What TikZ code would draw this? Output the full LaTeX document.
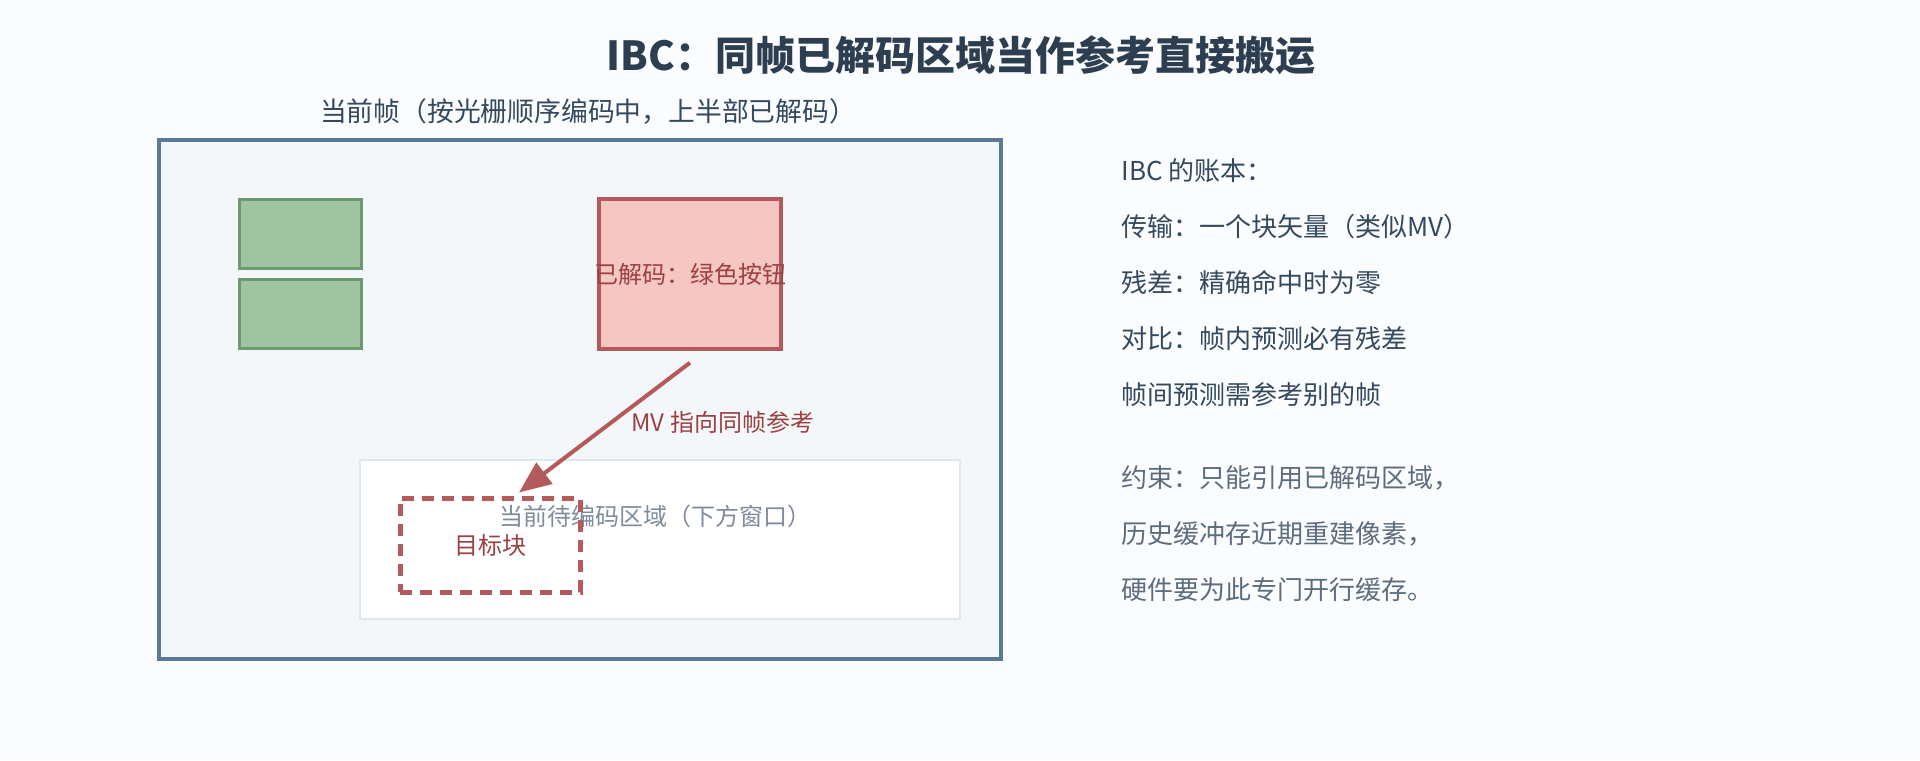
\documentclass[tikz,border=0pt]{standalone}
\usepackage{fontspec}
\setmainfont{Noto Sans CJK SC}
\usetikzlibrary{arrows.meta,calc}
\definecolor{bgc}{HTML}{FAFCFE}
\definecolor{ink}{HTML}{2C3E50}
\definecolor{inksoft}{HTML}{34495E}
\definecolor{inkgray}{HTML}{5D6D7E}
\definecolor{framec}{HTML}{5B7896}
\definecolor{framefill}{HTML}{F4F7FA}
\definecolor{grnfill}{HTML}{A0C3A2}
\definecolor{grnline}{HTML}{6A9A6E}
\definecolor{redfill}{HTML}{F5C6C2}
\definecolor{redline}{HTML}{B55A5A}
\definecolor{redtext}{HTML}{9A4242}
\definecolor{winline}{HTML}{DFE6EC}
\definecolor{wintext}{HTML}{7F8C9D}
\newcommand{\bodyfont}{\fontsize{12pt}{15pt}\selectfont}
\newcommand{\notefont}{\fontsize{13pt}{15pt}\selectfont}
\begin{document}
\begin{tikzpicture}[x=.5pt,y=-.5pt,>={Triangle[length=16pt,width=13pt]},
    box/.style={draw,inner sep=0pt},
    grnblk/.style={box,draw=grnline,fill=grnfill,line width=1.5pt,minimum width=61pt,minimum height=34.5pt},
    txt/.style={inner sep=0pt,font=\bodyfont},
    note/.style={inner sep=0pt,font=\notefont,anchor=west,text=inksoft}]
  \useasboundingbox [fill=bgc] (0,0) rectangle (1920,760);
  \node[inner sep=0pt,text=ink,font=\fontsize{20pt}{24pt}\selectfont\bfseries] (title) at (961,55) {IBC：同帧已解码区域当作参考直接搬运};
  \node[inner sep=0pt,text=inksoft,font=\fontsize{13.4pt}{16pt}\selectfont] (framecap) at (588,111) {当前帧（按光栅顺序编码中，上半部已解码）};
  % frame and the window still to code
  \node[box,draw=framec,fill=framefill,line width=1.8pt,minimum width=421pt,minimum height=259.5pt] (frame) at (580,399.5) {};
  \node[box,draw=winline,fill=white,line width=1pt,minimum width=300pt,minimum height=79.5pt] (window) at (660,539.5) {};
  \node[txt,text=wintext] (winlbl) at (655,516) {当前待编码区域（下方窗口）};
  \node[grnblk] (done1) at (300,233.5) {};
  \node[grnblk] (done2) at (300,313.5) {};
  \node[box,draw=redline,fill=redfill,line width=1.7pt,minimum width=91pt,minimum height=75pt] (decoded) at (690,274) {};
  \node[txt,text=redtext] at (decoded) {已解码：绿色按钮};
  \node[box,draw=redline,line width=2.5pt,dash pattern=on 6pt off 4pt,minimum width=90pt,minimum height=47pt] (target) at (490,545) {};
  \node[txt,text=redtext] at (target) {目标块};
  \draw[->,draw=redline,fill=redline,line width=2pt] ($(decoded.south)+(0,12)$) -- ($(target.north)+(29,-3)$);
  \node[txt,anchor=west,text=redtext] (mvlbl) at (631,422) {MV 指向同帧参考};
  % ledger on the right
  \foreach \line [count=\i] in {IBC 的账本：,传输：一个块矢量（类似MV）,残差：精确命中时为零,对比：帧内预测必有残差,帧间预测需参考别的帧}
    \node[note] (ledger\i) at (1121,{171+56*(\i-1)}) {\line};
  \foreach \line [count=\i] in {约束：只能引用已解码区域，,历史缓冲存近期重建像素，,硬件要为此专门开行缓存。}
    \node[note,text=inkgray] (limit\i) at (1121,{478+56*(\i-1)}) {\line};
\end{tikzpicture}
\end{document}
